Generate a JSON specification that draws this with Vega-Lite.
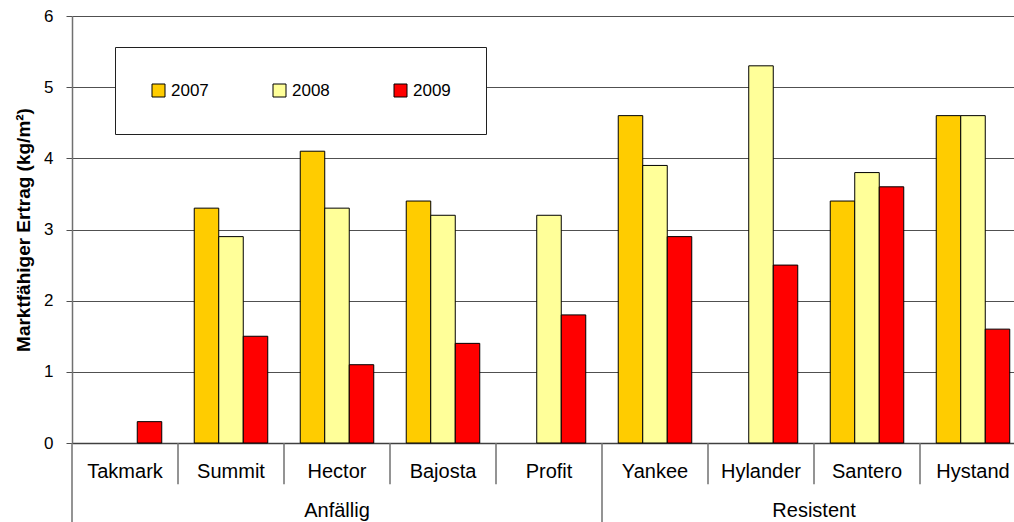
{
  "$schema": "https://vega.github.io/schema/vega-lite/v6.json",
  "autosize": {"type": "none"},
  "padding": {"left": 72, "top": 16, "right": -12, "bottom": 79},
  "width": 954,
  "height": 427,
  "background": "white",
  "config": {
    "view": {"stroke": null},
    "font": "Liberation Sans"
  },
  "layer": [
    {
      "data": {
        "values": [
          {"cultivar": "Takmark", "year": "2009", "value": 0.3},
          {"cultivar": "Summit", "year": "2007", "value": 3.3},
          {"cultivar": "Summit", "year": "2008", "value": 2.9},
          {"cultivar": "Summit", "year": "2009", "value": 1.5},
          {"cultivar": "Hector", "year": "2007", "value": 4.1},
          {"cultivar": "Hector", "year": "2008", "value": 3.3},
          {"cultivar": "Hector", "year": "2009", "value": 1.1},
          {"cultivar": "Bajosta", "year": "2007", "value": 3.4},
          {"cultivar": "Bajosta", "year": "2008", "value": 3.2},
          {"cultivar": "Bajosta", "year": "2009", "value": 1.4},
          {"cultivar": "Profit", "year": "2008", "value": 3.2},
          {"cultivar": "Profit", "year": "2009", "value": 1.8},
          {"cultivar": "Yankee", "year": "2007", "value": 4.6},
          {"cultivar": "Yankee", "year": "2008", "value": 3.9},
          {"cultivar": "Yankee", "year": "2009", "value": 2.9},
          {"cultivar": "Hylander", "year": "2008", "value": 5.3},
          {"cultivar": "Hylander", "year": "2009", "value": 2.5},
          {"cultivar": "Santero", "year": "2007", "value": 3.4},
          {"cultivar": "Santero", "year": "2008", "value": 3.8},
          {"cultivar": "Santero", "year": "2009", "value": 3.6},
          {"cultivar": "Hystand", "year": "2007", "value": 4.6},
          {"cultivar": "Hystand", "year": "2008", "value": 4.6},
          {"cultivar": "Hystand", "year": "2009", "value": 1.6}
        ]
      },
      "mark": {"type": "bar", "stroke": "black", "strokeWidth": 1},
      "encoding": {
        "x": {
          "field": "cultivar",
          "type": "nominal",
          "scale": {
            "domain": ["Takmark", "Summit", "Hector", "Bajosta", "Profit", "Yankee", "Hylander", "Santero", "Hystand"],
            "paddingInner": 0,
            "paddingOuter": 0
          },
          "axis": {
            "title": null,
            "labelAngle": 0,
            "ticks": false,
            "domainColor": "#404040",
            "domainWidth": 1.5,
            "labelFontSize": 20,
            "labelColor": "black",
            "labelBaseline": "middle",
            "labelPadding": 28
          }
        },
        "xOffset": {
          "field": "year",
          "type": "nominal",
          "scale": {"paddingInner": 0, "paddingOuter": 0.663}
        },
        "y": {
          "field": "value",
          "type": "quantitative",
          "scale": {"domain": [0, 6], "nice": false},
          "axis": {
            "title": "Marktfähiger Ertrag (kg/m²)",
            "titleFontSize": 19,
            "titleFontWeight": "bold",
            "titleColor": "black",
            "titlePadding": 10,
            "values": [0, 1, 2, 3, 4, 5, 6],
            "format": "d",
            "grid": true,
            "gridColor": "#505050",
            "tickSize": 6,
            "tickColor": "#505050",
            "domainColor": "#707070",
            "domainWidth": 1.5,
            "labelFontSize": 17,
            "labelColor": "black",
            "labelPadding": 13
          }
        },
        "color": {
          "field": "year",
          "type": "nominal",
          "scale": {"domain": ["2007", "2008", "2009"], "range": ["#FFCC00", "#FFFF99", "#FF0000"]},
          "legend": {
            "title": null,
            "orient": "none",
            "legendX": 43,
            "legendY": 31,
            "direction": "horizontal",
            "columnPadding": 62,
            "padding": 35,
            "fillColor": "white",
            "strokeColor": "#202020",
            "symbolType": "square",
            "symbolSize": 169,
            "symbolStrokeColor": "black",
            "symbolStrokeWidth": 1,
            "labelFontSize": 17,
            "labelColor": "black",
            "labelOffset": 4
          }
        }
      }
    },
    {
      "data": {"values": [{"boundary": "Summit"}, {"boundary": "Hector"}, {"boundary": "Bajosta"}, {"boundary": "Profit"}, {"boundary": "Hylander"}, {"boundary": "Santero"}, {"boundary": "Hystand"}]},
      "mark": {"type": "rule", "color": "#707070", "strokeWidth": 1.5},
      "encoding": {
        "x": {"field": "boundary", "type": "nominal", "bandPosition": 0},
        "y": {"datum": 0},
        "y2": {"datum": -0.58}
      }
    },
    {
      "data": {"values": [{"boundary": "Takmark"}, {"boundary": "Yankee"}]},
      "mark": {"type": "rule", "color": "#707070", "strokeWidth": 1.5},
      "encoding": {
        "x": {"field": "boundary", "type": "nominal", "bandPosition": 0},
        "y": {"datum": 0},
        "y2": {"datum": -1.12}
      }
    },
    {
      "data": {"values": [{"group": "Anfällig", "anchor": "Hector"}]},
      "mark": {"type": "text", "fontSize": 20, "color": "black", "baseline": "middle", "align": "center"},
      "encoding": {
        "x": {"field": "anchor", "type": "nominal", "bandPosition": 0.5},
        "y": {"datum": -0.96},
        "text": {"field": "group"}
      }
    },
    {
      "data": {"values": [{"group": "Resistent", "anchor": "Santero"}]},
      "mark": {"type": "text", "fontSize": 20, "color": "black", "baseline": "middle", "align": "center"},
      "encoding": {
        "x": {"field": "anchor", "type": "nominal", "bandPosition": 0},
        "y": {"datum": -0.96},
        "text": {"field": "group"}
      }
    }
  ]
}
